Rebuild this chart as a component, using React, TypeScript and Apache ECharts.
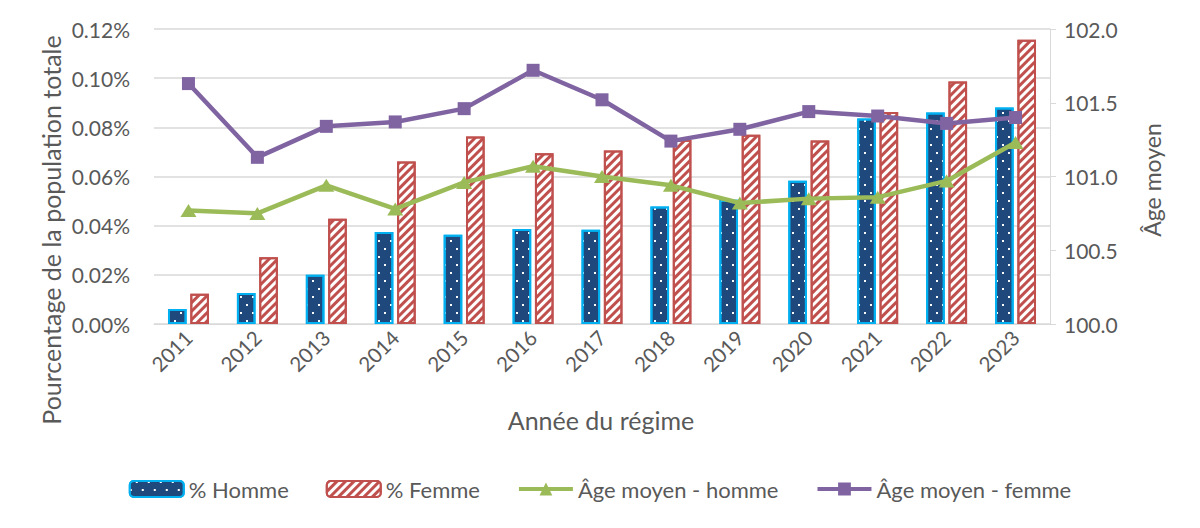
import React, { useEffect, useRef } from "react";
import * as echarts from "echarts";

const years = ["2011", "2012", "2013", "2014", "2015", "2016", "2017", "2018", "2019", "2020", "2021", "2022", "2023"];
const pctHomme = [0.0061, 0.0126, 0.02, 0.0374, 0.0363, 0.0386, 0.0383, 0.0478, 0.0505, 0.0583, 0.0836, 0.086, 0.0881];
const pctFemme = [0.0123, 0.0272, 0.0428, 0.0661, 0.0763, 0.0695, 0.0706, 0.0749, 0.077, 0.0746, 0.0862, 0.0986, 0.1156];
const ageHomme = [100.77, 100.75, 100.94, 100.78, 100.96, 101.07, 101.0, 100.94, 100.82, 100.85, 100.86, 100.97, 101.23];
const ageFemme = [101.63, 101.13, 101.34, 101.37, 101.46, 101.72, 101.52, 101.24, 101.32, 101.44, 101.41, 101.36, 101.4];
const seriesNames = ["% Homme", "% Femme", "Âge moyen - homme", "Âge moyen - femme"];
const leftAxis = { min: 0, max: 0.12, interval: 0.02 };
const rightAxis = { min: 100, max: 102, interval: 0.5 };
const titles = {
  left: "Pourcentage de la population totale",
  right: "Âge moyen",
  bottom: "Année du régime",
};

const FONT = "Lato, 'Open Sans', sans-serif";
const TXT = "#595959";
const GRID = "#D9D9D9";

export default function App() {
  const ref = useRef<HTMLDivElement>(null);
  useEffect(() => {
    if (!ref.current) return;
    const chart = echarts.init(ref.current, undefined, { renderer: "svg" });
    chart.setOption({
      animation: false,
      textStyle: { fontFamily: FONT },
      grid: { left: 154, right: 150, top: 29, bottom: 204, containLabel: false },
      legend: {
        data: seriesNames,
        bottom: 23,
        left: "center",
        itemWidth: 54,
        itemHeight: 16,
        itemGap: 37,
        lineStyle: { width: 4 },
        textStyle: { fontSize: 22, color: TXT, fontFamily: FONT },
      },
      xAxis: {
        type: "category",
        data: years,
        axisLine: { lineStyle: { color: GRID, width: 1 } },
        axisTick: { show: false },
        axisLabel: { rotate: 45, fontSize: 20.5, color: TXT, margin: 10, interval: 0 },
      },
      yAxis: [
        {
          type: "value",
          min: leftAxis.min,
          max: leftAxis.max,
          interval: leftAxis.interval,
          axisLine: { show: false },
          axisTick: { show: false },
          splitLine: { lineStyle: { color: GRID, width: 1.5 } },
          axisLabel: {
            fontSize: 21,
            color: TXT,
            margin: 24,
            formatter: (v: number) => v.toFixed(2) + "%",
          },
        },
        {
          type: "value",
          min: rightAxis.min,
          max: rightAxis.max,
          interval: rightAxis.interval,
          position: "right",
          axisLine: { show: true, lineStyle: { color: GRID, width: 1 } },
          axisTick: { show: true, length: 6, lineStyle: { color: GRID } },
          splitLine: { show: false },
          axisLabel: {
            fontSize: 21,
            color: TXT,
            margin: 14,
            formatter: (v: number) => v.toFixed(1),
          },
        },
      ],
      series: [
        {
          name: seriesNames[0],
          type: "bar",
          data: pctHomme,
          barWidth: "27%",
          barGap: "20%",
          itemStyle: {
            color: "#1F497D",
            borderColor: "#00B0F0",
            borderWidth: 2,
            decal: {
              symbol: "rect",
              symbolSize: 1,
              color: "#ffffff",
              dashArrayX: [[2, 10], [0, 6, 2, 4]],
              dashArrayY: [2, 6],
              rotation: 0,
            },
          },
        },
        {
          name: seriesNames[1],
          type: "bar",
          data: pctFemme,
          barWidth: "27%",
          itemStyle: {
            color: "#ffffff",
            borderColor: "#C0504D",
            borderWidth: 2,
            decal: {
              symbol: "rect",
              symbolSize: 1,
              color: "#C0504D",
              dashArrayX: [1, 0],
              dashArrayY: [2.4, 3],
              rotation: -Math.PI / 4,
            },
          },
        },
        {
          name: seriesNames[2],
          type: "line",
          yAxisIndex: 1,
          data: ageHomme,
          symbol: "triangle",
          symbolSize: [16, 13],
          lineStyle: { color: "#9BBB59", width: 4.5 },
          itemStyle: { color: "#9BBB59" },
        },
        {
          name: seriesNames[3],
          type: "line",
          yAxisIndex: 1,
          data: ageFemme,
          symbol: "rect",
          symbolSize: 13,
          lineStyle: { color: "#8064A2", width: 4.5 },
          itemStyle: { color: "#8064A2" },
        },
      ],
      graphic: [
        {
          type: "text",
          x: 51,
          y: 230,
          rotation: Math.PI / 2,
          style: {
            text: titles.left,
            fill: TXT,
            font: `25px ${FONT}`,
            align: "center",
            verticalAlign: "middle",
            textAlign: "center",
            textVerticalAlign: "middle",
          },
        },
        {
          type: "text",
          x: 1152,
          y: 180,
          rotation: Math.PI / 2,
          style: {
            text: titles.right,
            fill: TXT,
            font: `23px ${FONT}`,
            align: "center",
            verticalAlign: "middle",
            textAlign: "center",
            textVerticalAlign: "middle",
          },
        },
        {
          type: "text",
          x: 601,
          y: 420,
          style: {
            text: titles.bottom,
            fill: TXT,
            font: `25px ${FONT}`,
            align: "center",
            verticalAlign: "middle",
            textAlign: "center",
            textVerticalAlign: "middle",
          },
        },
      ],
    });
    return () => chart.dispose();
  }, []);
  return (
    <div
      ref={ref}
      style={{ position: "fixed", left: 0, top: 0, width: 1200, height: 528, background: "#fff" }}
    />
  );
}
